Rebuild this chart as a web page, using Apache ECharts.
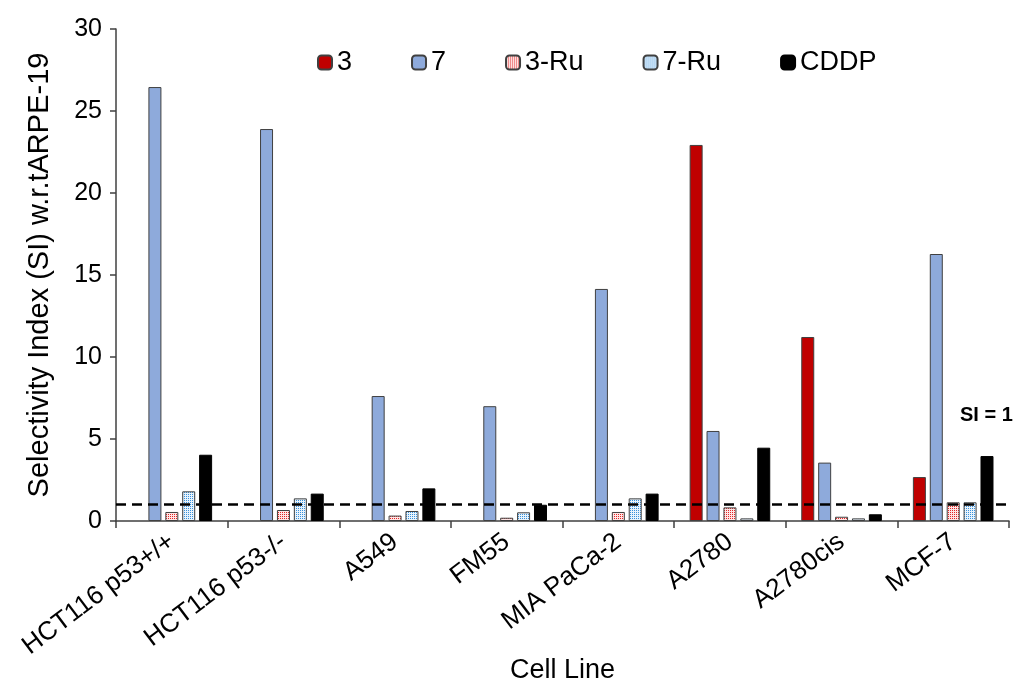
<!DOCTYPE html>
<html><head><meta charset="utf-8">
<script src="https://cdn.jsdelivr.net/npm/echarts@6/dist/echarts.min.js"></script>
<style>html,body{margin:0;padding:0;background:#fff}#c{width:1019px;height:684px}</style>
</head><body><div id="c"></div>
<script>
const categories = ['HCT116 p53+/+','HCT116 p53-/-','A549','FM55','MIA PaCa-2','A2780','A2780cis','MCF-7'];
const s3     = [null, null, null, null, null, 22.93, 11.22, 2.68];
const s7     = [26.46, 23.9, 7.62, 7.0, 14.15, 5.49, 3.56, 16.28];
const s3Ru   = [0.55, 0.67, 0.33, 0.2, 0.55, 0.83, 0.26, 1.14];
const s7Ru   = [1.81, 1.38, 0.61, 0.53, 1.38, 0.16, 0.16, 1.14];
const sCDDP  = [4.04, 1.67, 1.99, 0.99, 1.67, 4.47, 0.41, 3.96];
const yTicks = [0, 5, 10, 15, 20, 25, 30];
const siLine = 1;

function dotPattern(bg, dot) {
  const c = document.createElement('canvas');
  c.width = 2; c.height = 2;
  const g = c.getContext('2d');
  g.fillStyle = bg; g.fillRect(0, 0, 2, 2);
  g.fillStyle = dot; g.fillRect(0, 0, 1, 1);
  return { image: c, repeat: 'repeat' };
}
const pat3Ru = dotPattern('#ffe4e4', '#e02828');
const pat7Ru = dotPattern('#e8f3fc', '#3a90da');

const font = 'Liberation Sans, Arial, sans-serif';
const chart = echarts.init(document.getElementById('c'), null, {renderer: 'canvas'});
const bw = 13, gap = '30%';
function bar(name, data, color, border) {
  return { name, type: 'bar', data, barWidth: bw, barGap: gap,
    itemStyle: { color, borderColor: border, borderWidth: 1 } };
}
const series = [
  bar('3', s3, '#c00000', '#404040'),
  bar('7', s7, '#8eaadb', '#404040'),
  bar('3-Ru', s3Ru, pat3Ru, '#404040'),
  bar('7-Ru', s7Ru, pat7Ru, '#404040'),
  bar('CDDP', sCDDP, '#000000', '#000000')
];
series[0].markLine = {
  silent: true, symbol: 'none',
  lineStyle: { color: '#000', type: [10, 6], width: 2.5 },
  label: { show: false },
  data: [{ yAxis: siLine }]
};
chart.setOption({
  animation: false,
  grid: { left: 116, right: 10, top: 29, bottom: 163, outerBoundsMode: 'none', containLabel: false },
  legend: {
    top: 44, left: 312, itemGap: 59, itemWidth: 14, itemHeight: 14,
    textStyle: { fontFamily: font, fontSize: 27, color: '#000' },
    data: ['3','7','3-Ru','7-Ru','CDDP']
  },
  xAxis: {
    type: 'category', data: categories,
    name: 'Cell Line', nameLocation: 'middle', nameGap: 136, nameMoveOverlap: false,
    nameTextStyle: { fontFamily: font, fontSize: 27, color: '#000' },
    axisLine: { lineStyle: { color: '#404040', width: 1.5 } },
    axisTick: { show: true, length: 7, lineStyle: { color: '#404040', width: 1.5 } },
    axisLabel: { rotate: 37, fontFamily: font, fontSize: 26, color: '#000', margin: 18, interval: 0 }
  },
  yAxis: {
    type: 'value', min: yTicks[0], max: yTicks[yTicks.length - 1], interval: 5,
    name: 'Selectivity Index (SI) w.r.tARPE-19', nameLocation: 'middle', nameGap: 62, nameMoveOverlap: false,
    nameTextStyle: { fontFamily: font, fontSize: 29, color: '#000' },
    splitLine: { show: false },
    axisLine: { show: true, lineStyle: { color: '#404040', width: 1.5 } },
    axisTick: { show: true, length: 6, lineStyle: { color: '#404040', width: 1.5 } },
    axisLabel: { fontFamily: font, fontSize: 25, color: '#000', margin: 14 }
  },
  graphic: [{
    type: 'text', left: 960, top: 405,
    style: { text: 'SI = 1', font: 'bold 20px Liberation Sans, Arial, sans-serif', fill: '#000' }
  }],
  series
});
</script></body></html>
